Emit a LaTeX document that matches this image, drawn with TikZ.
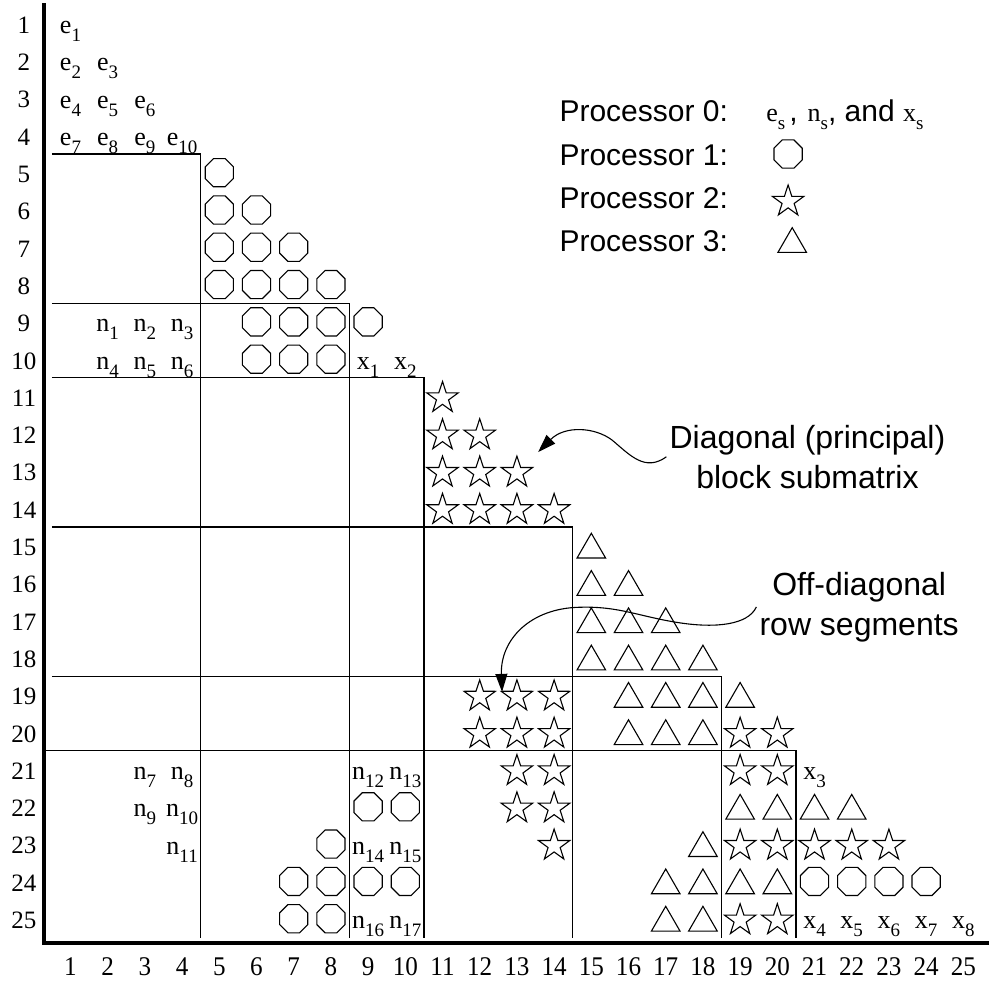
\documentclass[tikz,border=0pt]{standalone}
\usepackage{fontspec}
\setmainfont{Liberation Serif}
\setsansfont{Liberation Sans}
\usepackage{tikz}
\usetikzlibrary{shapes.geometric,arrows.meta}

\newcommand{\subs}[1]{\raisebox{-8pt}{\fontsize{19}{19}\selectfont #1}}

\begin{document}
\begin{tikzpicture}[
x=37.2pt,
y=-37.3pt,
proc1/.style={
draw,
regular polygon,
regular polygon sides=8,
inner sep=0pt,
minimum size=30.5pt,
line width=1.1pt
},
proc2/.style={
draw,
star,
star points=5,
star point ratio=2.6,
inner sep=0pt,
minimum size=33pt,
yshift=-1.5pt,
line width=1.1pt
},
proc3/.style={
draw,
regular polygon,
regular polygon sides=3,
inner sep=0pt,
minimum size=33pt,
yshift=-4.1pt,
line width=1.1pt
},
entry/.style={
anchor=base,
inner sep=0pt,
font=\fontsize{26}{26}\selectfont
},
lab/.style={
anchor=base,
inner sep=0pt,
font=\fontsize{25}{25}\selectfont
},
bottomlab/.style={
anchor=base,
inner sep=0pt,
font=\fontsize{27}{27}\selectfont
},
legend/.style={
anchor=base west,
inner sep=0pt,
font=\sffamily\fontsize{30}{30}\selectfont
},
note/.style={
align=center,
inner sep=3pt,
font=\sffamily\fontsize{32}{40}\selectfont
},
blk/.style={
line width=1.2pt
},
axis/.style={
line width=3.3pt
},
arrow/.style={
-{Triangle[length=18pt,width=12pt]},
line width=1.1pt
}
]

\useasboundingbox (-0.895,0.371) rectangle (25.69,26.78);


% Axes and labels

\draw[axis] (0.288,0.452) -- (0.288,25.65) -- (25.69,25.65);

\foreach \r in {1,...,25}
\node (row\r) [lab] at (-0.25,\r+0.264) {\r};

\foreach \c in {1,...,25}
\node (col\c) [bottomlab] at (\c,26.51) {\scalebox{0.93}[1]{\c}};


% Block boundaries

\foreach \k in {4,8,10,14,18}
\draw[blk] (0.5,\k+0.5) -| (\k+0.5,25.52);

\draw[blk] (0.288,20.5) -| (20.5,25.52);


% Processor 0 entries

\foreach \c/\r/\i in {1/1/1,1/2/2,2/2/3,1/3/4,2/3/5,3/3/6,1/4/7,2/4/8,3/4/9,4/4/10}
\node (e\i) [entry] at (\c,\r+0.268) {e\subs{\i}};

\foreach \c/\r/\i in {2/9/1,3/9/2,4/9/3,2/10/4,3/10/5,4/10/6,3/21/7,4/21/8,3/22/9,4/22/10,
4/23/11,9/21/12,10/21/13,9/23/14,10/23/15,9/25/16,10/25/17}
\node (n\i) [entry] at (\c,\r+0.268) {n\subs{\i}};

\foreach \c/\r/\i in {9/10/1,10/10/2,21/21/3,21/25/4,22/25/5,23/25/6,24/25/7,25/25/8}
\node (x\i) [entry] at (\c,\r+0.268) {x\subs{\i}};


% Processor 1

\foreach \r in {5,...,8}
\foreach \c in {5,...,\r}
\node (o-\r-\c) [proc1] at (\c,\r) {};

\foreach \c/\r in {6/9,7/9,8/9,9/9,6/10,7/10,8/10,9/22,10/22,8/23,
7/24,8/24,9/24,10/24,21/24,22/24,23/24,24/24,7/25,8/25}
\node (o-\r-\c) [proc1] at (\c,\r) {};


% Processor 2

\foreach \r in {11,...,14}
\foreach \c in {11,...,\r}
\node (s-\r-\c) [proc2] at (\c,\r) {};

\foreach \c/\r in {12/19,13/19,14/19,12/20,13/20,14/20,19/20,20/20,13/21,14/21,
19/21,20/21,13/22,14/22,14/23,19/23,20/23,21/23,22/23,23/23,19/25,20/25}
\node (s-\r-\c) [proc2] at (\c,\r) {};


% Processor 3

\foreach \r in {15,...,18}
\foreach \c in {15,...,\r}
\node (t-\r-\c) [proc3] at (\c,\r) {};

\foreach \c/\r in {16/19,17/19,18/19,19/19,16/20,17/20,18/20,19/22,20/22,21/22,
22/22,18/23,17/24,18/24,19/24,20/24,17/25,18/25}
\node (t-\r-\c) [proc3] at (\c,\r) {};


% Legend

\node (leg0) [legend] at (14.14,3.634) {Processor 0:};
\node (leg1) [legend] at (14.14,4.795) {Processor 1:};
\node (leg2) [legend] at (14.14,5.956) {Processor 2:};
\node (leg3) [legend] at (14.14,7.12) {Processor 3:};

\node (key0) [legend] at (19.70,3.634)
{{\rmfamily\fontsize{26}{26}\selectfont e\subs{s}}\hspace{4pt},\hspace{10pt}{\rmfamily\fontsize{26}{26}\selectfont n\subs{s}}, and {\rmfamily\fontsize{26}{26}\selectfont x\subs{s}}};
\node (key1) [proc1] at (20.29,4.5) {};
\node (key2) [proc2] at (20.29,5.733) {};
\node (key3) [proc3] at (20.40,6.806) {};


% Annotations

\node (diag) [note, anchor=base] at (20.81,13.46)
{Diagonal (principal)\\
block submatrix};

\node (offd) [note, anchor=base] at (22.2,17.40)
{Off-diagonal\\
row segments};

\coordinate (diagtip) at (13.57,12.49);
\coordinate (offdtip) at (12.6,18.92);

\draw[arrow] (diag.west) .. controls (16.44,13.03) and (16.04,12.57) .. (15.56,12.17)
.. controls (15.1,11.82) and (14.29,11.77) .. (diagtip);

\draw[arrow] (offd.west) .. controls (19.21,17.13) and (18.33,17.21) .. (17.39,17.07)
.. controls (16.31,16.91) and (15.77,16.62) .. (14.7,16.65)
.. controls (13.35,16.67) and (12.55,17.53) .. (offdtip);


\end{tikzpicture}
\end{document}
